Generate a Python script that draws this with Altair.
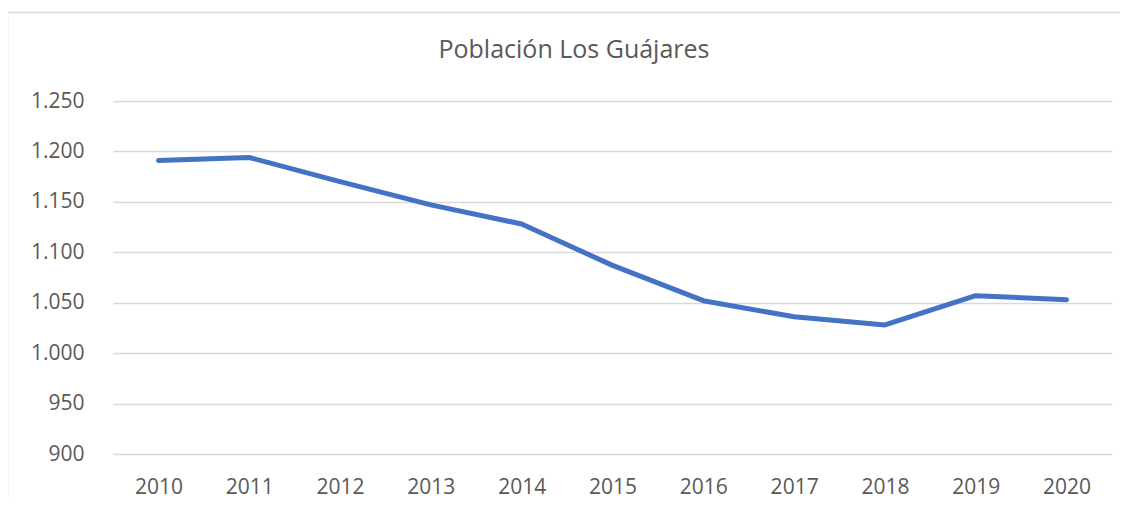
import altair as alt
import pandas as pd

years = ["2010", "2011", "2012", "2013", "2014", "2015", "2016", "2017", "2018", "2019", "2020"]
population = [1191, 1194, 1170, 1147, 1128, 1087, 1052, 1036, 1028, 1057, 1053]
y_ticks = [900, 950, 1000, 1050, 1100, 1150, 1200, 1250]
title_text = ["Población Los Guájares"]

df = pd.DataFrame({"year": years, "pop": population})

FONT = "Open Sans"
GRAY = "#595959"

line = alt.Chart(df).mark_line(color="#4472C4", strokeWidth=5, strokeCap="round", strokeJoin="round").encode(
    x=alt.X("year:N", sort=years, title=None,
            scale=alt.Scale(paddingInner=0, paddingOuter=0.5),
            axis=alt.Axis(labelAngle=0, ticks=False, domain=False, grid=False,
                          labelFont=FONT, labelFontSize=21, labelColor=GRAY, labelPadding=22)),
    y=alt.Y("pop:Q", title=None,
            scale=alt.Scale(domain=[900, 1250], nice=False, zero=False),
            axis=alt.Axis(values=y_ticks, ticks=False, domain=False, grid=True,
                          gridColor="#d9d9d9", gridWidth=1.3,
                          labelFont=FONT, labelFontSize=21, labelColor=GRAY, labelPadding=29,
                          labelExpr="replace(format(datum.value, ',d'), ',', '.')")),
)

border_df = pd.DataFrame({"k": [0]})
left_border = alt.Chart(border_df).mark_rule(color="#d9d9d9", strokeWidth=1.5).encode(
    x=alt.value(-105.5), y=alt.value(-88.5), y2=alt.value(420)
)
top_border = alt.Chart(border_df).mark_rule(color="#d9d9d9", strokeWidth=1.5).encode(
    x=alt.value(-105.5), x2=alt.value(1010), y=alt.value(-88.5)
)
title = alt.Chart(pd.DataFrame({"t": title_text})).mark_text(
    font=FONT, fontSize=25, color=GRAY, align="center", baseline="middle"
).encode(text="t:N", x=alt.value(461), y=alt.value(-51))

chart = alt.layer(left_border, top_border, title, line).properties(
    width=999, height=353,
    background="white",
    autosize=alt.AutoSizeParams(type="none"),
    padding={"left": 105, "top": 93, "right": 8, "bottom": 45},
).configure_view(strokeWidth=0, stroke="transparent")

chart.save("out.html", embed_options={"renderer": "svg", "actions": False})
